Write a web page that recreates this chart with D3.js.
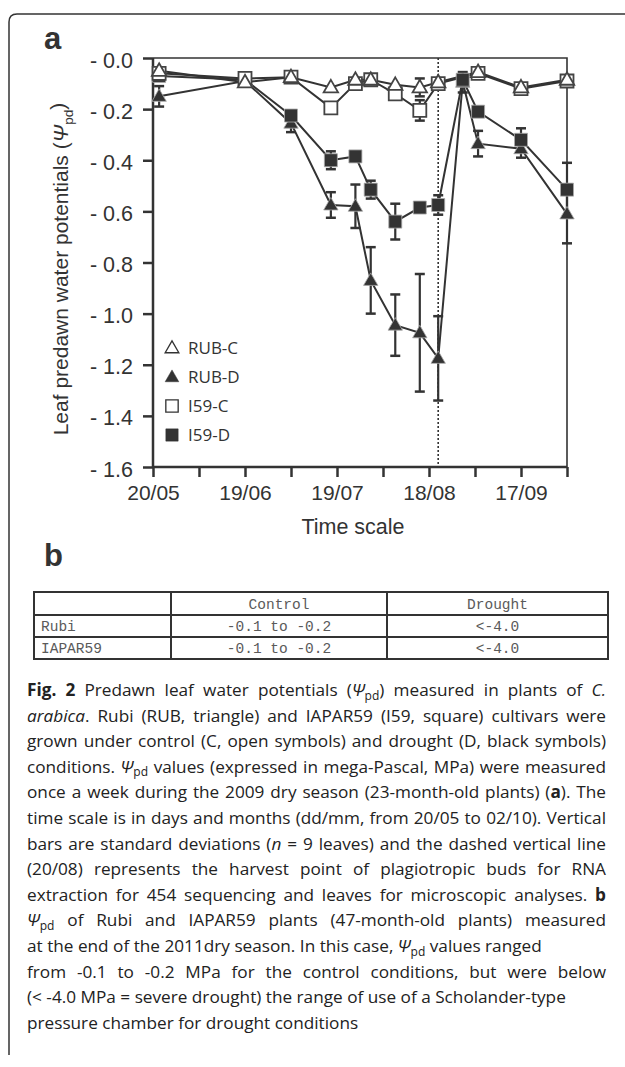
<!DOCTYPE html>
<html>
<head>
<meta charset="utf-8">
<script src="https://cdn.jsdelivr.net/npm/d3@7"></script>
<style>
  body { margin: 0; background: #fff; }
  svg text { font-family: "Liberation Sans", Arial, sans-serif; fill: #333; }
</style>
</head>
<body>
<div id="chart"></div>
<script>
// ---- data ----
const datesC = ["22/05", "19/06", "04/07", "17/07", "25/07", "30/07", "07/08", "15/08", "21/08", "03/09", "17/09", "02/10"];
const datesD = ["22/05", "19/06", "04/07", "17/07", "25/07", "30/07", "07/08", "15/08", "21/08", "29/08", "03/09", "17/09", "02/10"];

const rubC   = [-0.05, -0.095, -0.075, -0.115, -0.085, -0.085, -0.105, -0.115, -0.095, -0.055, -0.115, -0.085];
const rubCsd = [0, 0, 0, 0, 0, 0, 0, 0.035, 0, 0, 0, 0];
const i59C   = [-0.06, -0.08, -0.075, -0.195, -0.10, -0.085, -0.14, -0.205, -0.10, -0.06, -0.12, -0.09];
const i59Csd = [0, 0, 0, 0, 0, 0, 0, 0.04, 0, 0, 0, 0];
const rubD   = [-0.15, -0.09, -0.255, -0.575, -0.58, -0.87, -1.045, -1.075, -1.175, -0.095, -0.335, -0.355, -0.61];
const rubDsd = [0.04, 0, 0.035, 0.05, 0.085, 0.13, 0.12, 0.23, 0.165, 0.04, 0.05, 0.035, 0.115];
const i59D   = [-0.07, -0.085, -0.225, -0.40, -0.385, -0.515, -0.64, -0.585, -0.575, -0.085, -0.21, -0.32, -0.515];
const i59Dsd = [0, 0, 0.02, 0.035, 0, 0.035, 0.07, 0, 0.038, 0, 0, 0.045, 0.105];

const harvestDate = "21/08";
const xStart = "20/05", xEnd = "02/10";
const yTicks = [0, -0.2, -0.4, -0.6, -0.8, -1.0, -1.2, -1.4, -1.6];

const legendLabels = ["RUB-C", "RUB-D", "I59-C", "I59-D"];

const tableHeader = ["", "Control", "Drought"];
const tableRows = [
  ["Rubi", "-0.1 to -0.2", "<-4.0"],
  ["IAPAR59", "-0.1 to -0.2", "<-4.0"]
];

// ---- setup ----
const W = 625, H = 1067;
const parse = s => d3.timeParse("%d/%m/%Y")(s + "/2009");
const ink = "#333";

const svg = d3.select("#chart").append("svg")
  .attr("width", W).attr("height", H);

// outer frame (top + left, rounded corner)
svg.append("path")
  .attr("d", "M9,1055 L9,22 Q9,14 17,14 L630,14")
  .attr("fill", "none").attr("stroke", ink).attr("stroke-width", 1.5);

const plot = { left: 153, right: 567, top: 58, bottom: 467 };

const x = d3.scaleTime()
  .domain([parse(xStart), parse(xEnd)])
  .range([plot.left, plot.right]);
const y = d3.scaleLinear()
  .domain([0, -1.6])
  .range([plot.top, plot.bottom]);

const g = svg.append("g");

// frame top/right
g.append("path")
  .attr("d", `M${plot.left},${plot.top} H${plot.right} V${plot.bottom}`)
  .attr("fill", "none").attr("stroke", ink).attr("stroke-width", 1.6);

// x axis
const xTickDates = d3.timeDay.range(parse(xStart), d3.timeDay.offset(parse(xEnd), 1), 15);
const xAxis = d3.axisBottom(x)
  .tickValues(xTickDates)
  .tickSize(10)
  .tickPadding(8)
  .tickFormat((d, i) => i % 2 === 0 ? d3.timeFormat("%d/%m")(d) : "");
const gx = g.append("g")
  .attr("transform", `translate(0,${plot.bottom})`)
  .call(xAxis);
gx.select(".domain").attr("stroke", ink).attr("stroke-width", 2.5).attr("d", `M${plot.left},0H${plot.right}`);
gx.selectAll(".tick line").attr("stroke", ink).attr("stroke-width", 2.5);
gx.selectAll(".tick text").attr("font-size", 21).attr("fill", ink)
  .style("font-family", "'Liberation Sans', Arial, sans-serif");

// y axis
const yAxis = d3.axisLeft(y)
  .tickValues(yTicks)
  .tickSize(10)
  .tickPadding(10)
  .tickFormat(d => "- " + Math.abs(d).toFixed(1));
const gy = g.append("g")
  .attr("transform", `translate(${plot.left},0)`)
  .call(yAxis);
gy.select(".domain").attr("stroke", ink).attr("stroke-width", 2.5).attr("d", `M0,${plot.top}V${plot.bottom}`);
gy.selectAll(".tick line").attr("stroke", ink).attr("stroke-width", 2.5);
gy.selectAll(".tick text").attr("font-size", 21.5).attr("fill", ink).attr("dy", "0.42em")
  .style("font-family", "'Liberation Sans', Arial, sans-serif");

// axis titles
svg.append("text")
  .attr("x", 353).attr("y", 534)
  .attr("text-anchor", "middle")
  .attr("font-size", 21.5)
  .text("Time scale");

const yt = svg.append("text")
  .attr("transform", "translate(68,269) rotate(-90)")
  .attr("text-anchor", "middle")
  .attr("font-size", 21);
yt.append("tspan").text("Leaf predawn water potentials (");
yt.append("tspan").attr("font-style", "italic").text("Ψ");
yt.append("tspan").attr("font-size", "0.65em").attr("dy", "0.35em").text("pd");
yt.append("tspan").attr("dy", "-0.35em").text(")");

// panel letters
svg.append("text").attr("x", 44).attr("y", 49).attr("font-size", 31).attr("font-weight", "bold").text("a");
svg.append("text").attr("x", 44).attr("y", 566).attr("font-size", 31).attr("font-weight", "bold").text("b");

// dotted harvest line
g.append("line")
  .attr("x1", x(parse(harvestDate))).attr("x2", x(parse(harvestDate)))
  .attr("y1", plot.top).attr("y2", plot.bottom)
  .attr("stroke", ink).attr("stroke-width", 1.6).attr("stroke-dasharray", "2,2");

// ---- series ----
const triPath = "M0,-7.5 L7.2,5 L-7.2,5 Z";
const sqPath = "M-6.5,-6.5 H6.5 V6.5 H-6.5 Z";

const series = [
  { name: "RUB-D", dates: datesD, vals: rubD, sd: rubDsd, shape: triPath, filled: true },
  { name: "I59-D", dates: datesD, vals: i59D, sd: i59Dsd, shape: sqPath, filled: true },
  { name: "I59-C", dates: datesC, vals: i59C, sd: i59Csd, shape: sqPath, filled: false },
  { name: "RUB-C", dates: datesC, vals: rubC, sd: rubCsd, shape: triPath, filled: false }
].map(s => ({
  ...s,
  pts: s.dates.map((d, i) => ({ date: parse(d), v: s.vals[i], sd: s.sd[i] }))
}));

const line = d3.line().x(d => x(d.date)).y(d => y(d.v));

series.forEach(s => {
  g.append("path")
    .datum(s.pts)
    .attr("d", line)
    .attr("fill", "none")
    .attr("stroke", ink)
    .attr("stroke-width", 2);
});

// error bars
series.forEach(s => {
  const eb = g.append("g").selectAll("g")
    .data(s.pts.filter(p => p.sd > 0))
    .join("g");
  eb.append("line")
    .attr("x1", d => x(d.date)).attr("x2", d => x(d.date))
    .attr("y1", d => y(d.v - d.sd)).attr("y2", d => y(d.v + d.sd))
    .attr("stroke", ink).attr("stroke-width", 2.2);
  [-1, 1].forEach(k => {
    eb.append("line")
      .attr("x1", d => x(d.date) - 5).attr("x2", d => x(d.date) + 5)
      .attr("y1", d => y(d.v + k * d.sd)).attr("y2", d => y(d.v + k * d.sd))
      .attr("stroke", ink).attr("stroke-width", 2.5);
  });
});

// markers
series.forEach(s => {
  g.append("g").selectAll("path")
    .data(s.pts)
    .join("path")
    .attr("d", s.shape)
    .attr("transform", d => `translate(${x(d.date)},${y(d.v)})`)
    .attr("fill", s.filled ? ink : "#fff")
    .attr("stroke", s.filled ? "#aaa" : "#444")
    .attr("stroke-width", s.filled ? 0.8 : 1.8);
});

// legend
const legendShapes = { "RUB-C": [triPath, false], "RUB-D": [triPath, true], "I59-C": [sqPath, false], "I59-D": [sqPath, true] };
const lg = svg.append("g");
legendLabels.forEach((name, i) => {
  const yy = 348 + i * 29;
  const [shape, filled] = legendShapes[name];
  lg.append("path")
    .attr("d", shape)
    .attr("transform", `translate(172,${yy}) scale(0.95)`)
    .attr("fill", filled ? ink : "#fff")
    .attr("stroke", ink).attr("stroke-width", filled ? 0.5 : 1.4);
  lg.append("text")
    .attr("x", 188).attr("y", yy + 6)
    .attr("font-size", 17)
    .style("font-family", "'Open Sans', sans-serif")
    .text(name);
});

// ---- table b ----
const colX = [34, 171, 387, 608];
const rowY = [592, 615, 637, 659];
const tb = svg.append("g");
tb.append("rect")
  .attr("x", colX[0]).attr("y", rowY[0])
  .attr("width", colX[3] - colX[0]).attr("height", rowY[3] - rowY[0])
  .attr("fill", "none").attr("stroke", ink).attr("stroke-width", 2);
[1, 2].forEach(c => tb.append("line")
  .attr("x1", colX[c]).attr("x2", colX[c]).attr("y1", rowY[0]).attr("y2", rowY[3])
  .attr("stroke", ink).attr("stroke-width", 2));
[1, 2].forEach(r => tb.append("line")
  .attr("x1", colX[0]).attr("x2", colX[3]).attr("y1", rowY[r]).attr("y2", rowY[r])
  .attr("stroke", ink).attr("stroke-width", 2));
[tableHeader, ...tableRows].forEach((row, r) => {
  row.forEach((cell, c) => {
    if (!cell) return;
    tb.append("text")
      .attr("x", c === 0 ? colX[0] + 7 : (colX[c] + colX[c + 1]) / 2)
      .attr("y", (rowY[r] + rowY[r + 1]) / 2 + 5)
      .attr("text-anchor", c === 0 ? "start" : "middle")
      .attr("font-size", 14.5)
      .style("font-family", "'Liberation Mono', 'Courier New', monospace")
      .style("fill", "#5a5a5a")
      .text(cell);
  });
});

// ---- caption ----
const I = t => ({ t, i: 1 }), B = t => ({ t, b: 1 }), S = t => ({ t, s: 1 }), T = t => ({ t });
const capLines = [
  [[B("Fig. 2"), T(" Predawn leaf water potentials ("), I("Ψ"), S("pd"), T(") measured in plants of "), I("C.")], true],
  [[I("arabica"), T(". Rubi (RUB, triangle) and IAPAR59 (I59, square) cultivars were")], true],
  [[T("grown under control (C, open symbols) and drought (D, black symbols)")], true],
  [[T("conditions. "), I("Ψ"), S("pd"), T(" values (expressed in mega-Pascal, MPa) were measured")], true],
  [[T("once a week during the 2009 dry season (23-month-old plants) ("), B("a"), T("). The")], true],
  [[T("time scale is in days and months (dd/mm, from 20/05 to 02/10). Vertical")], true],
  [[T("bars are standard deviations ("), I("n"), T(" = 9 leaves) and the dashed vertical line")], true],
  [[T("(20/08) represents the harvest point of plagiotropic buds for RNA")], true],
  [[T("extraction for 454 sequencing and leaves for microscopic analyses. "), B("b")], true],
  [[I("Ψ"), S("pd"), T(" of Rubi and IAPAR59 plants (47-month-old plants) measured")], true],
  [[T("at the end of the 2011dry season. In this case, "), I("Ψ"), S("pd"), T(" values ranged")], false],
  [[T("from -0.1 to -0.2 MPa for the control conditions, but were below")], true],
  [[T("(< -4.0 MPa = severe drought) the range of use of a Scholander-type")], false],
  [[T("pressure chamber for drought conditions")], false]
];
const capX = 27, capRight = 606, capY0 = 696, capDy = 25.6;
capLines.forEach(([segs, justify], li) => {
  const t = svg.append("text")
    .attr("x", capX).attr("y", capY0 + li * capDy)
    .attr("font-size", 17.2)
    .style("font-family", "'Open Sans', sans-serif")
    .style("fill", "#222");
  let sub = false;
  segs.forEach(sg => {
    const sp = t.append("tspan").text(sg.t);
    if (sg.i) sp.attr("font-style", "italic");
    if (sg.b) sp.attr("font-weight", "bold");
    if (sg.s) { sp.attr("font-size", "0.7em").attr("dy", "0.3em"); sub = true; }
    else if (sub) { sp.attr("dy", "-0.21em"); sub = false; }
  });
  if (justify) {
    const len = t.node().getComputedTextLength();
    const spaces = segs.map(s => s.t).join("").split(" ").length - 1;
    if (spaces > 0) t.attr("word-spacing", (capRight - capX - len) / spaces);
  }
});
</script>
</body>
</html>
